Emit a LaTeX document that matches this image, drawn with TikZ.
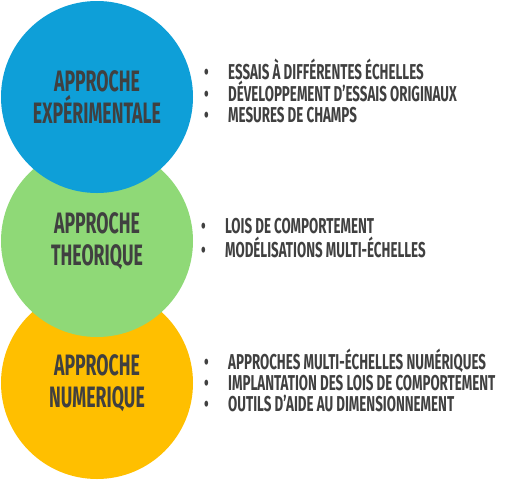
\documentclass[tikz,border=0pt]{standalone}
\usepackage{fontspec}
\setmainfont{Fira Sans}[FakeStretch=0.62,BoldFont={Fira Sans Bold}]
\newfontfamily\circfont{Fira Sans Bold}[FakeStretch=0.6]
\definecolor{cblue}{HTML}{0E9FD8}
\definecolor{cgreen}{HTML}{8FD977}
\definecolor{corange}{HTML}{FFBF00}
\definecolor{ctext}{HTML}{404040}
\newcommand{\bul}{\makebox[24pt][l]{\textbullet}}
\begin{document}
\begin{tikzpicture}[x=1pt,y=1pt,
  circ/.style={circle,inner sep=0pt,minimum size=192pt,align=center,text=ctext,
    font=\circfont\fontsize{29.5}{32}\selectfont},
  list/.style={anchor=north west,inner sep=0pt,align=left,text=ctext,
    font=\bfseries\fontsize{21.5}{20.8}\selectfont}]
\useasboundingbox (0,0) rectangle (516,-483);
\node[circ,fill=corange] (num) at (97,-383) {APPROCHE\\NUMERIQUE};
\node[circ,fill=cgreen] (theo) at (97,-241) {APPROCHE\\THEORIQUE};
\node[circ,fill=cblue] (exp) at (97,-97) {APPROCHE\\EXPÉRIMENTALE};
\node[list] (lexp) at (204,-59) {\bul ESSAIS À DIFFÉRENTES ÉCHELLES\\\bul DÉVELOPPEMENT D’ESSAIS ORIGINAUX\\\bul MESURES DE CHAMPS};
\node[list,font=\bfseries\fontsize{21.5}{24}\selectfont] (ltheo) at (201,-218) {\bul LOIS DE COMPORTEMENT\\\bul MODÉLISATIONS MULTI-ÉCHELLES};
\node[list] (lnum) at (204,-349) {\bul APPROCHES MULTI-ÉCHELLES NUMÉRIQUES\\\bul IMPLANTATION DES LOIS DE COMPORTEMENT\\\bul OUTILS D’AIDE AU DIMENSIONNEMENT};
\end{tikzpicture}
\end{document}
